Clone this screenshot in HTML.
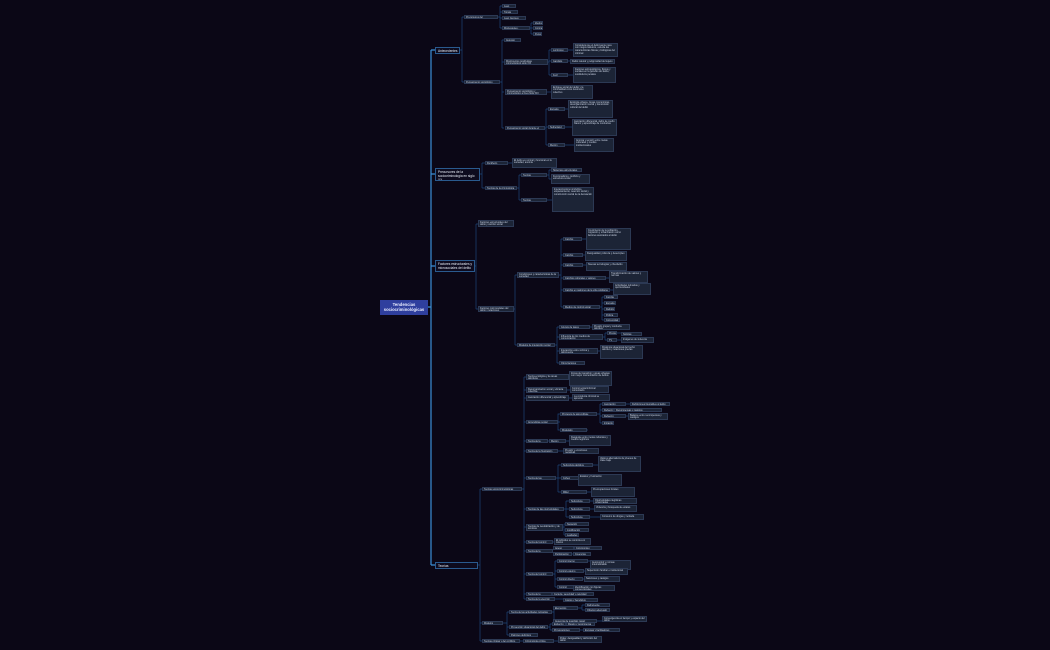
<!DOCTYPE html>
<html><head><meta charset="utf-8"><style>
body{margin:0;width:1050px;height:650px;background:#0b0716;overflow:hidden;position:relative;font-family:"Liberation Sans",sans-serif}
.b{position:absolute;background:#1c2436;border:0.5px solid #2c3954;color:#c9d2e3;font-size:2.4px;line-height:2.8px;padding:0.5px 1px;box-sizing:border-box;overflow:hidden}
.m{background:#0d0b1e;border:1px solid #2a5a8e;color:#e6ecf6;font-size:3.2px;line-height:4px;padding:1px 2px}
.r{position:absolute;left:380px;top:300px;width:48px;height:15px;background:#2f3f9e;color:#e8ecff;font-size:4.2px;line-height:5px;text-align:center;font-weight:bold;padding-top:2px;box-sizing:border-box}
svg{position:absolute;left:0;top:0}
</style></head><body>
<svg width="1050" height="650" fill="none" stroke-width="0.7">
<path stroke="#3b8fd6" stroke-width="1.2" d="M428 307H431M431 50V565M431 50H435M431 174H435M431 266H435M431 565H435"/>
<g stroke="#1d4578">
<path d="M460 50H462M462 17V82M462 17H464M462 82H464"/>
<path d="M498 17H500M500 6V28M500 6H502M500 12H502M500 18H502M500 28H502"/>
<path d="M530 28H531M531 23V34M531 23H533M531 28H533M531 34H533"/>
<path d="M500 82H502M502 40V128M502 40H504M502 62H504M502 92H504M502 128H504"/>
<path d="M548 62H549M549 50V75M549 50H551M549 61H551M549 75H551M568 50H573M568 61H570M568 75H573"/>
<path d="M547 92H551"/>
<path d="M545 128H546M546 109V145M546 109H548M546 127H548M546 145H548M565 109H568M565 127H572M565 145H574"/>
<path d="M480 174H482M482 163V188M482 163H485M482 188H485M508 163H512"/>
<path d="M517 188H519M519 175V200M519 175H521M519 200H521M547 175H549M549 170V179M549 170H551M549 179H551M547 200H552"/>
<path d="M475 266H476M476 224V309M476 224H478M476 309H478"/>
<path d="M514 309H515M515 275V345M515 275H517M515 345H517"/>
<path d="M559 275H561M561 239V307M561 239H563M561 255H563M561 265H563M561 278H563M561 290H563M561 307H563M582 239H586M583 255H585M583 265H586M606 278H609M610 290H613"/>
<path d="M600 307H602M602 297V320M602 297H604M602 303H604M602 309H604M602 315H604M602 320H604"/>
<path d="M555 345H557M557 327V363M557 327H559M557 337H559M557 351H559M557 363H559M590 327H592M598 351H600"/>
<path d="M603 337H605M605 333V340M605 333H607M605 340H607M617 333H621M617 340H621"/>
<path d="M478 565H480M480 489V641M480 489H482M480 623H482M480 641H482"/>
<path d="M522 489H524M524 377V599M524 377H526M524 390H526M524 398H526M524 422H526M524 441H526M524 451H526M524 478H526M524 509H526M524 527H526M524 542H526M524 551H526M524 574H526M524 594H526M524 599H526"/>
<path d="M569 377H569M567 390H570M569 398H572M560 422H558V414H560M558 422V430H560M597 414H600M600 404V423M600 404H602M600 410H602M600 416H602M600 423H602M626 404H630M626 410H614M626 416H628M587 430H588M548 441H549M566 441H569M558 451H563"/>
<path d="M556 478H558M558 465V492M558 465H561M558 478H561M558 492H561M593 465H598M585 478H578M587 492H591"/>
<path d="M564 509H566M566 501V517M566 501H569M566 509H569M566 517H569M590 501H593M590 509H594M590 517H600"/>
<path d="M563 527H564M564 524V535M564 524H565M564 530H565M564 535H565M553 542H554M553 551H553M574 548H574M572 554H573"/>
<path d="M553 574H555M555 561V587M555 561H557M555 571H557M555 579H557M555 587H557M588 561H590M584 571H585M583 579H584M575 587H573M555 594H552M555 599H563"/>
<path d="M503 623H507M507 612V635M507 612H509M507 627H509M507 635H509M552 612H554M554 608V621M554 608H553M554 621H553M578 608H582M582 605V610M582 605H585M582 610H585M597 621H602"/>
<path d="M548 627H550M550 624V630M550 624H552M550 630H552M566 624H566M580 630H583"/>
<path d="M520 641H523M554 641H558"/>
</g></svg>
<div class="r">Tendencias sociocriminológicas</div>
<div class="b m" style="left:435px;top:47px;width:25px;height:7px">Antecedentes</div>
<div class="b m" style="left:435px;top:168px;width:45px;height:13px">Precursores de la sociocriminología en siglo XX</div>
<div class="b m" style="left:435px;top:260px;width:40px;height:12px">Factores estructurales y microsociales del delito</div>
<div class="b m" style="left:435px;top:562px;width:43px;height:7px">Teorías sociocriminológicas</div>

<div class="b" style="left:464px;top:15px;width:34px;height:4px">Precursores del pensamiento social</div>
<div class="b" style="left:502px;top:4px;width:14px;height:4px">Jean Bodin</div>
<div class="b" style="left:502px;top:10px;width:16px;height:4px">Tomás Moro</div>
<div class="b" style="left:502px;top:16px;width:24px;height:4px">Jean Jacques Rousseau</div>
<div class="b" style="left:502px;top:26px;width:28px;height:4px">Montesquieu, Beccaria</div>
<div class="b" style="left:533px;top:21px;width:10px;height:4px">Ideología</div>
<div class="b" style="left:533px;top:26px;width:10px;height:4px">Contrato</div>
<div class="b" style="left:533px;top:32px;width:9px;height:4px">Penas</div>
<div class="b" style="left:464px;top:80px;width:36px;height:4px">Pensamiento sociológico siglo XIX</div>
<div class="b" style="left:504px;top:38px;width:17px;height:4px">Augusto Comte</div>
<div class="b" style="left:504px;top:59px;width:44px;height:6px">Movimientos positivistas criminológicos siglo XIX</div>
<div class="b" style="left:551px;top:48px;width:17px;height:4px">Lombroso</div>
<div class="b" style="left:551px;top:59px;width:17px;height:4px">Garofalo</div>
<div class="b" style="left:551px;top:73px;width:17px;height:4px">Ferri</div>
<div class="b" style="left:573px;top:43px;width:45px;height:14px">Considera que el delincuente nace con rasgos atávicos, estudia las características físicas y biológicas del criminal</div>
<div class="b" style="left:570px;top:59px;width:45px;height:5px">Delito natural y peligrosidad del sujeto</div>
<div class="b" style="left:573px;top:67px;width:43px;height:16px">Factores antropológicos, físicos y sociales en la génesis del delito, sustitutivos penales</div>
<div class="b" style="left:505px;top:89px;width:42px;height:6px">Pensamiento sociológico y criminológico a fines siglo XIX</div>
<div class="b" style="left:551px;top:85px;width:42px;height:14px">Enfoque social del delito y la criminalidad como fenómeno colectivo</div>
<div class="b" style="left:505px;top:126px;width:40px;height:4px">Pensamiento social durante el siglo XX</div>
<div class="b" style="left:548px;top:107px;width:17px;height:4px">Escuela Chicago</div>
<div class="b" style="left:548px;top:125px;width:17px;height:4px">Sutherland</div>
<div class="b" style="left:548px;top:143px;width:17px;height:4px">Merton</div>
<div class="b" style="left:568px;top:100px;width:45px;height:18px">Ecología urbana, zonas concéntricas, desorganización social y transmisión cultural del delito</div>
<div class="b" style="left:572px;top:119px;width:45px;height:17px">Asociación diferencial, delito de cuello blanco y aprendizaje de conductas</div>
<div class="b" style="left:574px;top:138px;width:40px;height:14px">Anomia y tensión entre metas culturales y medios institucionales</div>

<div class="b" style="left:485px;top:161px;width:23px;height:4px">Durkheim</div>
<div class="b" style="left:512px;top:158px;width:45px;height:10px">El delito es normal y funcional en la sociedad, anomia</div>
<div class="b" style="left:485px;top:186px;width:32px;height:4px">Teorías de la criminología</div>
<div class="b" style="left:521px;top:173px;width:26px;height:4px">Teorías estructurales</div>
<div class="b" style="left:551px;top:168px;width:31px;height:4px">Sistemas estructurales</div>
<div class="b" style="left:551px;top:174px;width:39px;height:10px">Funcionalismo, conflicto y estructura social</div>
<div class="b" style="left:521px;top:198px;width:26px;height:4px">Teorías interaccionistas</div>
<div class="b" style="left:552px;top:187px;width:42px;height:25px">Interaccionismo simbólico, etiquetamiento, reacción social y construcción social de la desviación</div>

<div class="b" style="left:478px;top:220px;width:36px;height:7px">Factores estructurales del delito y cambio social</div>
<div class="b" style="left:478px;top:306px;width:36px;height:6px">Factores microsociales del delito y relaciones</div>
<div class="b" style="left:517px;top:272px;width:42px;height:6px">Condiciones y características de la sociedad</div>
<div class="b" style="left:563px;top:237px;width:19px;height:4px">Cambio demográfico</div>
<div class="b" style="left:563px;top:253px;width:20px;height:4px">Cambio económico</div>
<div class="b" style="left:563px;top:263px;width:20px;height:4px">Cambio tecnológico</div>
<div class="b" style="left:563px;top:276px;width:43px;height:4px">Cambios culturales y valores sociales</div>
<div class="b" style="left:563px;top:288px;width:47px;height:4px">Cambio en patrones de la vida cotidiana</div>
<div class="b" style="left:563px;top:305px;width:37px;height:4px">Medios de control social</div>
<div class="b" style="left:586px;top:228px;width:45px;height:22px">Crecimiento de la población, migración y urbanización como factores asociados al delito</div>
<div class="b" style="left:585px;top:251px;width:42px;height:10px">Desigualdad, pobreza y desempleo</div>
<div class="b" style="left:586px;top:262px;width:41px;height:9px">Nuevas tecnologías y ciberdelito</div>
<div class="b" style="left:609px;top:271px;width:39px;height:12px">Transformación de valores y normas</div>
<div class="b" style="left:613px;top:283px;width:38px;height:12px">Actividades rutinarias y oportunidades</div>
<div class="b" style="left:604px;top:295px;width:14px;height:4px">Familia</div>
<div class="b" style="left:604px;top:301px;width:12px;height:4px">Escuela</div>
<div class="b" style="left:604px;top:307px;width:11px;height:4px">Religión</div>
<div class="b" style="left:604px;top:313px;width:14px;height:4px">Policía</div>
<div class="b" style="left:604px;top:318px;width:16px;height:4px">Comunidad</div>
<div class="b" style="left:517px;top:343px;width:38px;height:4px">Modelos de interacción social</div>
<div class="b" style="left:559px;top:325px;width:31px;height:4px">Grupos de pares</div>
<div class="b" style="left:559px;top:334px;width:44px;height:6px">Influencia de los medios de comunicación</div>
<div class="b" style="left:559px;top:348px;width:39px;height:6px">Interacción entre víctima y delincuente</div>
<div class="b" style="left:559px;top:361px;width:26px;height:4px">Otros factores</div>
<div class="b" style="left:592px;top:324px;width:38px;height:6px">Presión grupal y conducta delictiva</div>
<div class="b" style="left:607px;top:331px;width:10px;height:4px">Prensa</div>
<div class="b" style="left:607px;top:338px;width:10px;height:4px">TV</div>
<div class="b" style="left:621px;top:332px;width:21px;height:4px">Noticias</div>
<div class="b" style="left:621px;top:337px;width:33px;height:6px">Imágenes de violencia</div>
<div class="b" style="left:600px;top:345px;width:43px;height:14px">Dinámica situacional del hecho delictivo y relaciones previas</div>

<div class="b" style="left:482px;top:487px;width:40px;height:4px">Teorías sociocriminológicas contemporáneas</div>
<div class="b" style="left:526px;top:374px;width:43px;height:6px">Teoría ecológica y de áreas delictivas</div>
<div class="b" style="left:526px;top:387px;width:41px;height:6px">Desorganización social y eficacia colectiva</div>
<div class="b" style="left:526px;top:395px;width:43px;height:6px">Asociación diferencial y aprendizaje</div>
<div class="b" style="left:526px;top:420px;width:32px;height:4px">Aprendizaje social</div>
<div class="b" style="left:526px;top:439px;width:22px;height:4px">Teoría de la anomia</div>
<div class="b" style="left:526px;top:449px;width:32px;height:4px">Teoría de la frustración</div>
<div class="b" style="left:526px;top:476px;width:30px;height:4px">Teoría de las subculturas</div>
<div class="b" style="left:526px;top:507px;width:38px;height:4px">Teorías de las oportunidades diferenciales</div>
<div class="b" style="left:526px;top:524px;width:37px;height:7px">Teorías de neutralización y de técnicas</div>
<div class="b" style="left:526px;top:540px;width:27px;height:4px">Teoría del control</div>
<div class="b" style="left:526px;top:549px;width:27px;height:4px">Teoría de la vinculación</div>
<div class="b" style="left:526px;top:572px;width:27px;height:4px">Teoría del control social</div>
<div class="b" style="left:526px;top:592px;width:26px;height:4px">Teoría de la disuasión</div>
<div class="b" style="left:526px;top:597px;width:29px;height:4px">Teoría de la elección racional</div>
<div class="b" style="left:569px;top:371px;width:43px;height:15px">Zonas de transición y áreas urbanas con mayor concentración de delitos</div>
<div class="b" style="left:570px;top:386px;width:39px;height:7px">Control social informal comunitario</div>
<div class="b" style="left:572px;top:394px;width:38px;height:7px">La conducta criminal se aprende</div>
<div class="b" style="left:560px;top:412px;width:37px;height:4px">Procesos de aprendizaje</div>
<div class="b" style="left:602px;top:402px;width:24px;height:4px">Asociación diferencial</div>
<div class="b" style="left:602px;top:408px;width:12px;height:4px">Refuerzo</div>
<div class="b" style="left:602px;top:414px;width:24px;height:4px">Refuerzo diferencial</div>
<div class="b" style="left:602px;top:421px;width:12px;height:4px">Imitación</div>
<div class="b" style="left:630px;top:402px;width:40px;height:4px">Definiciones favorables al delito</div>
<div class="b" style="left:614px;top:408px;width:48px;height:4px">Recompensas y castigos</div>
<div class="b" style="left:628px;top:413px;width:40px;height:7px">Balance entre recompensas y castigos</div>
<div class="b" style="left:560px;top:428px;width:27px;height:4px">Modelado</div>
<div class="b" style="left:549px;top:439px;width:17px;height:4px">Merton</div>
<div class="b" style="left:569px;top:435px;width:42px;height:11px">Desajuste entre metas culturales y medios legítimos</div>
<div class="b" style="left:563px;top:448px;width:36px;height:6px">Presión y emociones negativas</div>
<div class="b" style="left:561px;top:463px;width:32px;height:4px">Subcultura delictiva</div>
<div class="b" style="left:561px;top:476px;width:24px;height:4px">Cohen</div>
<div class="b" style="left:561px;top:490px;width:26px;height:4px">Miller</div>
<div class="b" style="left:598px;top:456px;width:43px;height:16px">Valores alternativos de jóvenes de clase baja</div>
<div class="b" style="left:578px;top:474px;width:44px;height:12px">Estatus y frustración</div>
<div class="b" style="left:591px;top:487px;width:44px;height:10px">Preocupaciones focales</div>
<div class="b" style="left:569px;top:499px;width:21px;height:4px">Subcultura criminal</div>
<div class="b" style="left:569px;top:507px;width:21px;height:4px">Subcultura conflictiva</div>
<div class="b" style="left:569px;top:515px;width:21px;height:4px">Subcultura retraída</div>
<div class="b" style="left:593px;top:498px;width:44px;height:6px">Oportunidades ilegítimas organizadas</div>
<div class="b" style="left:594px;top:505px;width:43px;height:7px">Violencia y búsqueda de estatus</div>
<div class="b" style="left:600px;top:514px;width:44px;height:6px">Consumo de drogas y retirada</div>
<div class="b" style="left:565px;top:522px;width:24px;height:4px">Negación</div>
<div class="b" style="left:565px;top:528px;width:24px;height:4px">Justificación</div>
<div class="b" style="left:565px;top:533px;width:14px;height:4px">Lealtades</div>
<div class="b" style="left:554px;top:538px;width:37px;height:7px">El individuo se controla a sí mismo</div>
<div class="b" style="left:553px;top:546px;width:21px;height:4px">Apego</div>
<div class="b" style="left:574px;top:546px;width:28px;height:4px">Compromiso</div>
<div class="b" style="left:553px;top:552px;width:19px;height:4px">Participación</div>
<div class="b" style="left:573px;top:552px;width:18px;height:4px">Creencias</div>
<div class="b" style="left:557px;top:559px;width:31px;height:4px">Control interno</div>
<div class="b" style="left:557px;top:569px;width:27px;height:4px">Control externo</div>
<div class="b" style="left:557px;top:577px;width:26px;height:4px">Control directo</div>
<div class="b" style="left:557px;top:585px;width:18px;height:4px">Control indirecto</div>
<div class="b" style="left:590px;top:560px;width:41px;height:10px">Autocontrol y normas internalizadas</div>
<div class="b" style="left:585px;top:568px;width:43px;height:7px">Supervisión familiar e institucional</div>
<div class="b" style="left:584px;top:576px;width:36px;height:6px">Sanciones y castigos</div>
<div class="b" style="left:573px;top:585px;width:42px;height:6px">Identificación con figuras convencionales</div>
<div class="b" style="left:552px;top:592px;width:42px;height:4px">Certeza, severidad y celeridad</div>
<div class="b" style="left:563px;top:598px;width:35px;height:4px">Costos y beneficios</div>

<div class="b" style="left:482px;top:621px;width:21px;height:4px">Modelos situacionales</div>
<div class="b" style="left:509px;top:610px;width:43px;height:4px">Teoría de las actividades rutinarias</div>
<div class="b" style="left:553px;top:606px;width:25px;height:4px">Elementos</div>
<div class="b" style="left:585px;top:603px;width:25px;height:4px">Delincuente motivado</div>
<div class="b" style="left:585px;top:608px;width:25px;height:4px">Objetivo adecuado</div>
<div class="b" style="left:553px;top:619px;width:44px;height:4px">Ausencia de guardián capaz</div>
<div class="b" style="left:602px;top:616px;width:45px;height:6px">Convergencia en tiempo y espacio del delito</div>
<div class="b" style="left:509px;top:625px;width:39px;height:4px">Prevención situacional del delito</div>
<div class="b" style="left:552px;top:622px;width:14px;height:4px">Esfuerzo</div>
<div class="b" style="left:566px;top:622px;width:29px;height:4px">Riesgo y recompensa</div>
<div class="b" style="left:552px;top:628px;width:28px;height:4px">Provocaciones</div>
<div class="b" style="left:583px;top:628px;width:37px;height:4px">Excusas y facilitadores</div>
<div class="b" style="left:509px;top:633px;width:29px;height:4px">Patrones delictivos</div>
<div class="b" style="left:482px;top:639px;width:38px;height:4px">Teorías críticas y del conflicto</div>
<div class="b" style="left:523px;top:639px;width:31px;height:4px">Criminología crítica</div>
<div class="b" style="left:558px;top:636px;width:44px;height:7px">Poder, desigualdad y definición del delito</div>
</body></html>
